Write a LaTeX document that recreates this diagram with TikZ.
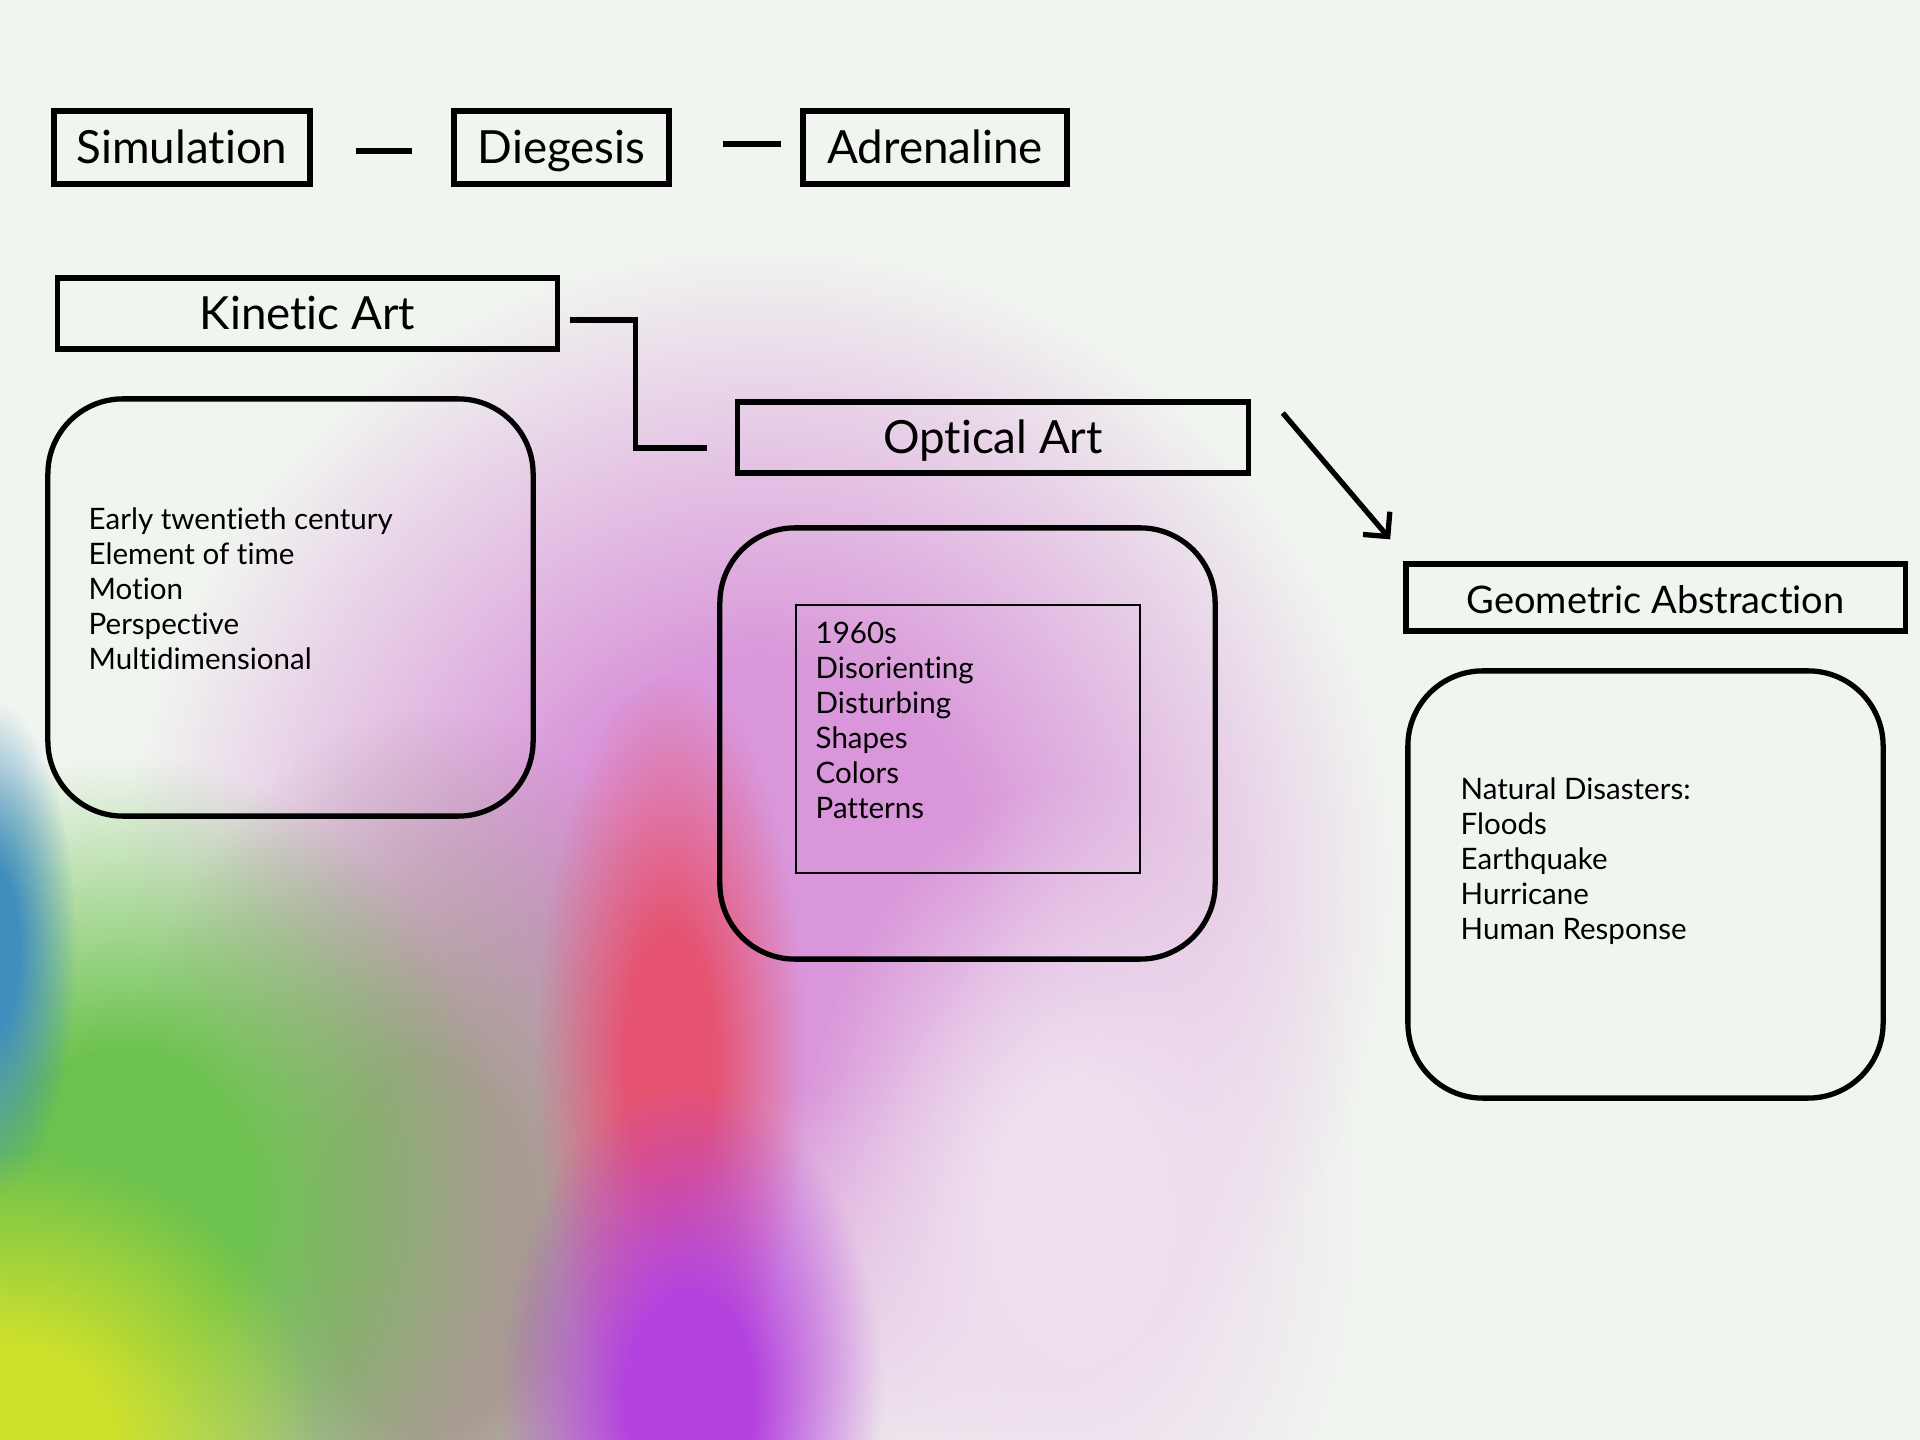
\documentclass[tikz,border=0pt]{standalone}
\usepackage{fontspec}
\setmainfont{Lato}[Ligatures=NoCommon]
\usetikzlibrary{positioning, arrows.meta, fadings}
\definecolor{paper}{HTML}{F1F5F0}
\pgfdeclareradialshading{softshade}{\pgfpointorigin}{color(0bp)=(white); color(8bp)=(white); color(24bp)=(black); color(50bp)=(black)}
\pgfdeclarefading{softblob}{\pgfuseshading{softshade}}
\tikzset{x=0.01cm, y=-0.01cm,
  title/.style={draw, line width=1.5pt, inner sep=0pt, text height=0.9em, text depth=0pt, font=\fontsize{13}{15.6}\selectfont},
  group/.style={draw, line width=1.5pt, rounded corners=0.75cm, inner sep=0pt},
  notes/.style={anchor=west, align=left, inner sep=0pt, font=\fontsize{8.4}{9.96}\selectfont},
  dashline/.style={line width=1.8pt},
  link/.style={line width=1.5pt},
  arrow/.style={line width=1.5pt, -{Straight Barb[length=5pt, width=10pt]}},
  blob/.style={path fading=softblob}}

\begin{document}
\begin{tikzpicture}
            % paper and colour wash
            \fill[paper] (0,0) rectangle (1920,1440);
            \begin{scope}
                \clip (0,0) rectangle (1920,1440);
                \fill[blob, color={rgb,255:red,217;green,150;blue,218}] (760,880) ellipse (660 and 660);
                \fill[blob, color={rgb,255:red,238;green,222;blue,238}] (1080,1220) ellipse (300 and 460);
                \fill[blob, color={rgb,255:red,168;green,156;blue,146}] (430,1250) ellipse (340 and 560);
                \fill[blob, color={rgb,255:red,108;green,194;blue,78}] (120,1200) ellipse (400 and 460);
                \fill[blob, color={rgb,255:red,64;green,142;blue,190}] (-10,950) ellipse (90 and 260);
                \fill[blob, color={rgb,255:red,205;green,224;blue,44}] (10,1440) ellipse (320 and 300);
                \fill[blob, color={rgb,255:red,230;green,84;blue,114}] (670,1060) ellipse (140 and 400);
                \fill[blob, color={rgb,255:red,180;green,66;blue,222}] (690,1400) ellipse (200 and 330);
            \end{scope}

            % header row
            \node[title, minimum width=2.56cm, minimum height=0.73cm] (sim) at (182,147.5) {Simulation};
            \node[title, minimum width=2.15cm, minimum height=0.73cm] (dieg) at (561.5,147.5) {Diegesis};
            \node[title, minimum width=2.64cm, minimum height=0.73cm] (adr) at (935,147.5) {Adrenaline};

            % art movements
            \node[title, minimum width=4.99cm, minimum height=0.71cm] (kin) at (307.5,313.5) {Kinetic Art};
            \node[title, minimum width=5.10cm, minimum height=0.71cm] (opt) at (993,437.5) {Optical Art};
            \node[title, minimum width=4.99cm, minimum height=0.67cm, font=\fontsize{10.8}{13}\selectfont] (geo) at (1655.5,597.5) {Geometric Abstraction};

            % detail boxes
            \node[group, minimum width=4.85cm, minimum height=4.17cm] (kinbox) at (290.5,607.5) {};
            \node[group, minimum width=4.95cm, minimum height=4.31cm] (optbox) at (967.5,743.5) {};
            \node[draw, line width=0.5pt, inner sep=0pt, minimum width=3.44cm, minimum height=2.68cm] (optinner) at (968,739) {};
            \node[group, minimum width=4.75cm, minimum height=4.27cm] (geobox) at (1645.5,884.5) {};

            \node[notes] (kintext) at (88,589) {Early twentieth century\\Element of time\\Motion\\Perspective\\Multidimensional};
            \node[notes] (opttext) at (815,720) {1960s\\Disorienting\\Disturbing\\Shapes\\Colors\\Patterns};
            \node[notes] (geotext) at (1460,861) {Natural Disasters:\\Floods\\Earthquake\\Hurricane\\Human Response};

            % connectors
            \draw[dashline, shorten <=0.43cm, shorten >=0.39cm] ([yshift=-1pt]sim.east) -- ([yshift=-1pt]dieg.west);
            \draw[dashline, shorten <=0.51cm, shorten >=0.19cm] ([yshift=1pt]dieg.east) -- ([yshift=1pt]adr.west);
            \draw[link] ([shift={(10,6.5)}]kin.east) -| ([shift={(-100,10.5)}]opt.west) -- ([shift={(-28,10.5)}]opt.west);
            \draw[arrow] ([shift={(32,-24.5)}]opt.east) -- ([shift={(-13,-22)}]geo.north west);
\end{tikzpicture}
\end{document}
